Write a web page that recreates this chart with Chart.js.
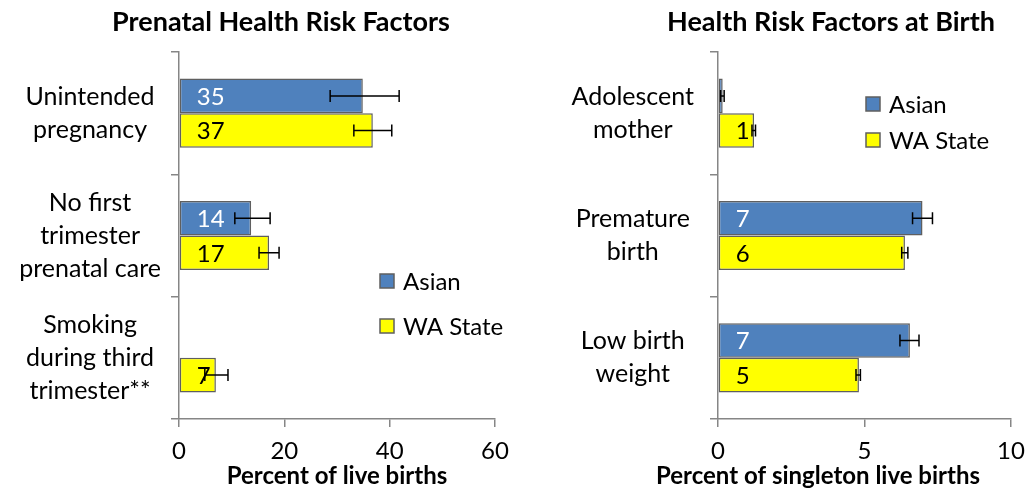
<!DOCTYPE html>
<html>
<head>
<meta charset="utf-8">
<script src="https://cdn.jsdelivr.net/npm/chart.js@4"></script>
<style>
  body { margin: 0; background: #fff; }
  .wrap { position: absolute; top: 0; width: 514px; height: 489px; }
  #left-wrap { left: 0; }
  #right-wrap { left: 514px; }
</style>
</head>
<body>
<div class="wrap" id="left-wrap"><canvas id="prenatal-chart" width="514" height="489"></canvas></div>
<div class="wrap" id="right-wrap"><canvas id="birth-chart" width="514" height="489"></canvas></div>
<script>
// prenatal chart data
const prenatalCategories = [['Unintended', 'pregnancy'], ['No first', 'trimester', 'prenatal care'], ['Smoking', 'during third', 'trimester**']];
const prenatalAsian = [34.9, 13.7, null];
const prenatalAsianLow = [28.7, 10.6, null];
const prenatalAsianHigh = [41.8, 17.3, null];
const prenatalAsianLabels = ['35', '14', null];
const prenatalWA = [36.8, 17.1, 7.0];
const prenatalWALow = [33.2, 15.2, 4.9];
const prenatalWAHigh = [40.4, 19.0, 9.3];
const prenatalWALabels = ['37', '17', '7'];
const prenatalTicks = [0, 20, 40, 60];

// birth chart data
const birthCategories = [['Adolescent', 'mother'], ['Premature', 'birth'], ['Low birth', 'weight']];
const birthAsian = [0.16, 6.98, 6.55];
const birthAsianLow = [0.09, 6.64, 6.21];
const birthAsianHigh = [0.21, 7.32, 6.86];
const birthAsianLabels = [null, '7', '7'];
const birthWA = [1.23, 6.38, 4.81];
const birthWALow = [1.16, 6.27, 4.71];
const birthWAHigh = [1.28, 6.48, 4.86];
const birthWALabels = ['1', '6', '5'];
const birthTicks = [0, 5, 10];

const FONT = 'Lato';
const AXIS_GRAY = '#868686';

const errorBars = {
    id: 'errorBars',
    afterDatasetsDraw(chart) {
        const ctx = chart.ctx;
        const xScale = chart.scales.x;
        ctx.save();
        ctx.strokeStyle = '#000';
        ctx.lineWidth = 1.5;
        chart.data.datasets.forEach((ds, i) => {
            const meta = chart.getDatasetMeta(i);
            meta.data.forEach((bar, j) => {
                if (ds.low[j] == null) return;
                const x1 = xScale.getPixelForValue(ds.low[j]);
                const x2 = xScale.getPixelForValue(ds.high[j]);
                const y = bar.y;
                ctx.beginPath();
                ctx.moveTo(x1, y); ctx.lineTo(x2, y);
                ctx.moveTo(x1, y - 6); ctx.lineTo(x1, y + 6);
                ctx.moveTo(x2, y - 6); ctx.lineTo(x2, y + 6);
                ctx.stroke();
            });
        });
        ctx.restore();
    }
};

const barLabels = {
    id: 'barLabels',
    afterDatasetsDraw(chart) {
        const ctx = chart.ctx;
        ctx.save();
        ctx.font = '24px ' + FONT;
        ctx.textAlign = 'left';
        ctx.textBaseline = 'middle';
        chart.data.datasets.forEach((ds, i) => {
            const meta = chart.getDatasetMeta(i);
            ctx.fillStyle = ds.labelColor;
            meta.data.forEach((bar, j) => {
                const txt = ds.valueLabels[j];
                if (txt == null) return;
                ctx.fillText(txt, bar.base + 17, bar.y + 1);
            });
        });
        ctx.restore();
    }
};

const headings = {
    id: 'headings',
    afterDraw(chart, args, opts) {
        const ctx = chart.ctx;
        ctx.save();
        ctx.fillStyle = '#000';
        ctx.textAlign = 'center';
        ctx.textBaseline = 'middle';
        ctx.font = 'bold 27px ' + FONT;
        ctx.fillText(opts.title, opts.titleX, 22);
        ctx.font = 'bold 24px ' + FONT;
        ctx.fillText(opts.axisTitle, opts.axisX, 476);

        // legend
        ctx.textAlign = 'left';
        ctx.font = '24px ' + FONT;
        chart.data.datasets.forEach((ds, i) => {
            const y = opts.legendY + i * opts.legendGap;
            ctx.fillStyle = ds.backgroundColor;
            ctx.fillRect(opts.legendX, y - 7, 14, 14);
            ctx.strokeStyle = '#5f5f5f';
            ctx.lineWidth = 1.5;
            ctx.strokeRect(opts.legendX, y - 7, 14, 14);
            ctx.fillStyle = '#000';
            ctx.fillText(ds.label, opts.legendX + 23, y + 1);
        });
        ctx.restore();
    }
};

function createRiskChart(id, cfg) {
    const ctx = document.getElementById(id);
    if (!ctx) {
        console.error('Canvas element not found: ' + id);
        return null;
    }

    return new Chart(ctx, {
        type: 'bar',
        data: {
            labels: cfg.categories,
            datasets: [{
                label: 'Asian',
                data: cfg.asian,
                low: cfg.asianLow,
                high: cfg.asianHigh,
                valueLabels: cfg.asianLabels,
                labelColor: '#fff',
                backgroundColor: '#4F81BD',
                borderColor: '#5f5f5f',
                borderWidth: 1.5,
                borderSkipped: false
            }, {
                label: 'WA State',
                data: cfg.wa,
                low: cfg.waLow,
                high: cfg.waHigh,
                valueLabels: cfg.waLabels,
                labelColor: '#000',
                backgroundColor: '#FFFF00',
                borderColor: '#5f5f5f',
                borderWidth: 1.5,
                borderSkipped: false
            }]
        },
        options: {
            indexAxis: 'y',
            responsive: false,
            animation: false,
            categoryPercentage: 0.565,
            barPercentage: 1.0,
            layout: {
                padding: { left: 0, right: cfg.padRight, top: 52, bottom: 0 }
            },
            plugins: {
                legend: { display: false },
                tooltip: { enabled: false },
                headings: cfg.headings
            },
            scales: {
                x: {
                    min: cfg.ticks[0],
                    max: cfg.ticks[cfg.ticks.length - 1],
                    afterBuildTicks(scale) {
                        scale.ticks = cfg.ticks.map(v => ({ value: v }));
                    },
                    afterFit(scale) {
                        scale.height = 70;
                        scale.paddingLeft = 0;
                        scale.paddingRight = 0;
                    },
                    grid: {
                        drawOnChartArea: false,
                        color: AXIS_GRAY,
                        lineWidth: 1.5,
                        tickLength: 8
                    },
                    border: { color: AXIS_GRAY, width: 1.5 },
                    ticks: {
                        color: '#000',
                        padding: 10,
                        maxRotation: 0,
                        font: { family: FONT, size: 24 }
                    }
                },
                y: {
                    afterFit(scale) {
                        scale.width = cfg.yWidth;
                        scale.paddingTop = 0;
                        scale.paddingBottom = 0;
                    },
                    grid: {
                        drawOnChartArea: false,
                        color: AXIS_GRAY,
                        lineWidth: 1.5,
                        tickLength: 8
                    },
                    border: { color: AXIS_GRAY, width: 1.5 },
                    ticks: {
                        color: '#000',
                        padding: cfg.labelPad,
                        crossAlign: 'center',
                        font: { family: FONT, size: 25, lineHeight: 1.32 }
                    }
                }
            }
        },
        plugins: [errorBars, barLabels, headings]
    });
}

createRiskChart('prenatal-chart', {
    categories: prenatalCategories,
    asian: prenatalAsian, asianLow: prenatalAsianLow, asianHigh: prenatalAsianHigh, asianLabels: prenatalAsianLabels,
    wa: prenatalWA, waLow: prenatalWALow, waHigh: prenatalWAHigh, waLabels: prenatalWALabels,
    ticks: prenatalTicks,
    yWidth: 179,
    padRight: 19,
    labelPad: 10,
    headings: {
        title: 'Prenatal Health Risk Factors', titleX: 281,
        axisTitle: 'Percent of live births', axisX: 337,
        legendX: 380, legendY: 281, legendGap: 45
    }
});

createRiskChart('birth-chart', {
    categories: birthCategories,
    asian: birthAsian, asianLow: birthAsianLow, asianHigh: birthAsianHigh, asianLabels: birthAsianLabels,
    wa: birthWA, waLow: birthWALow, waHigh: birthWAHigh, waLabels: birthWALabels,
    ticks: birthTicks,
    yWidth: 204,
    padRight: 17,
    labelPad: 16,
    headings: {
        title: 'Health Risk Factors at Birth', titleX: 317,
        axisTitle: 'Percent of singleton live births', axisX: 304,
        legendX: 352, legendY: 104, legendGap: 36
    }
});
</script>
</body>
</html>
